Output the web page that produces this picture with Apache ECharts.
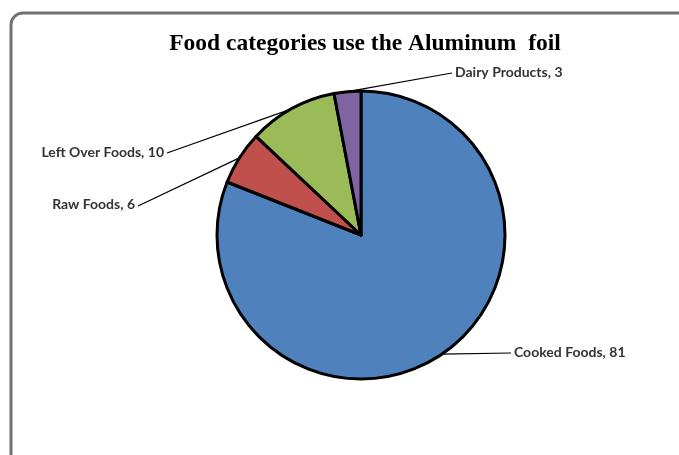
<!DOCTYPE html>
<html>
<head>
<meta charset="utf-8">
<script src="https://cdn.jsdelivr.net/npm/echarts@6/dist/echarts.min.js"></script>
<style>html,body{margin:0;padding:0;background:#fff;}#c{width:679px;height:455px;}</style>
</head>
<body>
<div id="c"></div>
<script>
var categories = ['Cooked Foods', 'Raw Foods', 'Left Over Foods', 'Dairy Products'];
var values = [81, 6, 10, 3];
var colors = ['#4F81BD', '#C0504D', '#9BBB59', '#8064A2'];
var titleText = 'Food categories use the Aluminum  foil';

// label anchor placement (layout only)
var labelPos = {
  'Cooked Foods': {x: 514, y: 352, align: 'left', lx: 511, ly: 353},
  'Raw Foods': {x: 135, y: 204, align: 'right', lx: 138, ly: 206},
  'Left Over Foods': {x: 164, y: 152, align: 'right', lx: 167, ly: 153},
  'Dairy Products': {x: 455, y: 72, align: 'left', lx: 452, ly: 73}
};

var chart = echarts.init(document.getElementById('c'));
chart.setOption({
  animation: false,
  backgroundColor: '#fff',
  graphic: [{
    type: 'rect',
    shape: {x: 11, y: 13, width: 720, height: 480, r: 12},
    style: {fill: 'none', stroke: '#727272', lineWidth: 3},
    z: 0
  }],
  title: {
    text: titleText,
    left: 360,
    textAlign: 'center',
    top: 27,
    textStyle: {fontFamily: 'Liberation Serif', fontWeight: 'bold', fontSize: 23.5, color: '#000'}
  },
  series: [{
    type: 'pie',
    center: [361, 235],
    radius: 144,
    startAngle: 90,
    clockwise: true,
    data: categories.map(function (c, i) {
      return {name: c, value: values[i], itemStyle: {color: colors[i]}};
    }),
    itemStyle: {borderColor: '#000', borderWidth: 3},
    label: {
      show: true,
      position: 'outside',
      formatter: '{b}, {c}',
      fontFamily: 'Lato',
      fontWeight: 'bold',
      fontSize: 14,
      color: '#333333'
    },
    labelLine: {show: true, length: 10, length2: 10, lineStyle: {color: '#000', width: 1.2}},
    labelLayout: function (params) {
      var name = categories[params.dataIndex];
      var p = labelPos[name];
      var start = params.labelLinePoints ? params.labelLinePoints[0] : [p.lx, p.ly];
      return {
        x: p.x, y: p.y, align: p.align, verticalAlign: 'middle',
        labelLinePoints: [start, [p.lx, p.ly], [p.lx, p.ly]]
      };
    }
  }]
});
</script>
</body>
</html>
